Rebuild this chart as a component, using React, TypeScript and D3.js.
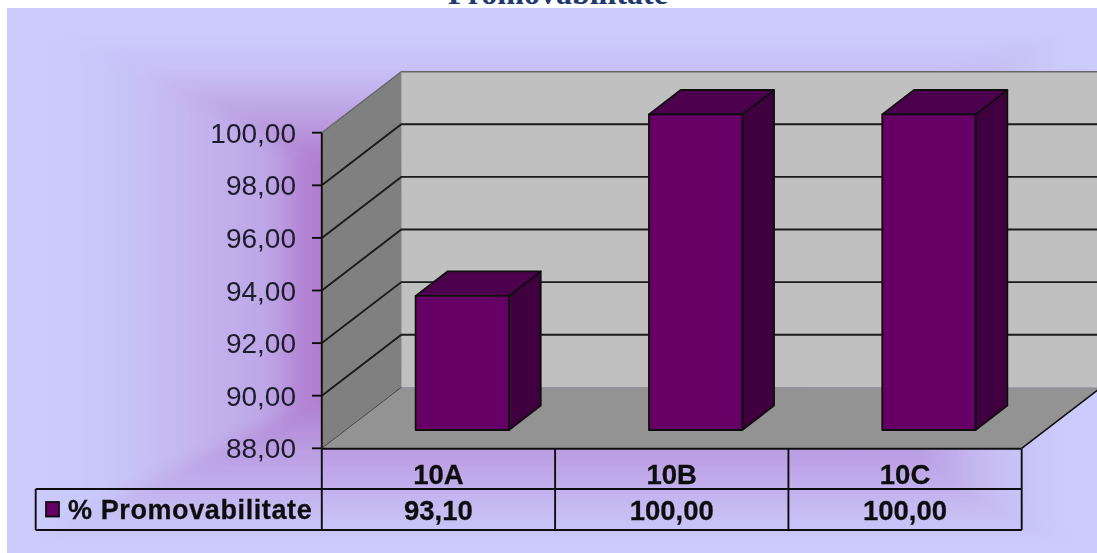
import React from "react";
import * as d3 from "d3";

const categories = ["10A", "10B", "10C"];
const values = [93.1, 100, 100];
const valueLabels = ["93,10", "100,00", "100,00"];
const ticks = [88, 90, 92, 94, 96, 98, 100];
const seriesName = "% Promovabilitate";
const title = "Promovabilitate";

const W = 1097, H = 553;
const BG = { x0: 7, y0: 8, x1: 1097, y1: 553 };
const DX = 79.5, DY = -61;
const yScale = d3.scaleLinear().domain([88, 100]).range([448.3, 132.7]);
const xScale = d3.scaleBand().domain(categories).range([321.8, 1021.7]).paddingInner(0).paddingOuter(0);
// project a point at front-plane (x,y) backwards by depth fraction d
const P = (x: number, y: number, d = 0): [number, number] => [x + DX * d, y + DY * d];
const poly = (pts: [number, number][]) => d3.line()(pts)! + "Z";

const stopsLeft: [number, string][] = [[0, "#ccccff"], [0.17, "#c9c8fb"], [0.35, "#c3b4ee"], [0.48, "#bda6e6"], [0.55, "#b180d2"], [1, "#a060c0"]];
const stopsTop: [number, string][] = [[0, "#ccccff"], [0.1, "#cbcafd"], [0.235, "#c8bff7"], [0.36, "#bfa8e6"], [0.55, "#b080d0"], [1, "#a060c0"]];
const stopsBottom: [number, string][] = [[0, "#ccccff"], [0.085, "#c9c5f8"], [0.16, "#c6bcf2"], [0.23, "#c2b0ee"], [0.375, "#ba9de2"], [0.55, "#b080d0"], [1, "#a060c0"]];
const stopsRight: [number, string][] = [[0, "#ccccff"], [0.07, "#cbcafd"], [0.2, "#c6bcf2"], [0.33, "#ba9de2"], [0.55, "#b080d0"], [1, "#a060c0"]];

const cx = (BG.x0 + BG.x1) / 2, cy = (BG.y0 + BG.y1) / 2;
const trapezoids = [
  { id: "gT", stops: stopsTop, pts: [[BG.x0, BG.y0], [BG.x1, BG.y0], [cx, cy]], g: [cx, BG.y0, cx, cy] },
  { id: "gB", stops: stopsBottom, pts: [[BG.x0, BG.y1], [BG.x1, BG.y1], [cx, cy]], g: [cx, BG.y1, cx, cy] },
  { id: "gL", stops: stopsLeft, pts: [[BG.x0, BG.y0], [BG.x0, BG.y1], [cx, cy]], g: [BG.x0, cy, cx, cy] },
  { id: "gR", stops: stopsRight, pts: [[BG.x1, BG.y0], [BG.x1, BG.y1], [cx, cy]], g: [BG.x1, cy, cx, cy] },
];

const FONT = "'Liberation Sans', Arial, sans-serif";
const INK = "#111";

export default function App() {
  const y0 = yScale(88), yTop = yScale(100);
  const xL = xScale.range()[0], xR = xScale.range()[1];
  const rowY = [y0 + 0.5, 489, 530];
  const legendX = 35.7;
  const d0 = 0.3, d1 = 0.7;
  const barBand = 0.4, barOff = 0.3;

  return (
    <svg width={W} height={H} viewBox={`0 0 ${W} ${H}`} style={{ position: "fixed", left: 0, top: 0, background: "#fff", display: "block" }}>
      <defs>
        {trapezoids.map(t => (
          <linearGradient key={t.id} id={t.id} gradientUnits="userSpaceOnUse" x1={t.g[0]} y1={t.g[1]} x2={t.g[2]} y2={t.g[3]}>
            {t.stops.map(([o, c]) => <stop key={o} offset={o} stopColor={c} />)}
          </linearGradient>
        ))}
        <filter id="soft" x="-5%" y="-5%" width="110%" height="110%">
          <feGaussianBlur stdDeviation="0.6" />
        </filter>
        <filter id="bgsoft" x="-5%" y="-5%" width="110%" height="110%">
          <feGaussianBlur stdDeviation="8" />
        </filter>
        <clipPath id="clip"><rect x={0} y={0} width={W} height={H} /></clipPath>
        <clipPath id="bgclip"><rect x={BG.x0} y={BG.y0} width={BG.x1 - BG.x0} height={BG.y1 - BG.y0} /></clipPath>
      </defs>

      <text x={558} y={4} textAnchor="middle" fontFamily="'Liberation Serif', 'Times New Roman', serif" fontWeight="bold" fontSize={32} fill="#1f3a6e">{title}</text>

      <rect x={BG.x0} y={BG.y0} width={BG.x1 - BG.x0} height={BG.y1 - BG.y0} fill="#ccccff" />
      <g clipPath="url(#bgclip)">
        <g filter="url(#bgsoft)">
          {trapezoids.map(t => (
            <path key={t.id} d={poly(t.pts as [number, number][])} fill={`url(#${t.id})`} stroke={`url(#${t.id})`} strokeWidth={0.6} />
          ))}
        </g>
      </g>

      <g filter="url(#soft)" clipPath="url(#clip)">
        {/* back wall */}
        <path d={poly([P(xL, yTop, 1), P(xR + 10, yTop, 1), P(xR + 10, y0, 1), P(xL, y0, 1)])} fill="#c0c0c0" />
        {/* side wall */}
        <path d={poly([P(xL, yTop), P(xL, yTop, 1), P(xL, y0, 1), P(xL, y0)])} fill="#808080" />
        {/* floor */}
        <path d={poly([P(xL, y0), P(xR, y0), P(xR, y0, 1), P(xL, y0, 1)])} fill="#939393" />
        {/* gridlines */}
        {ticks.slice(1).map(t => (
          <path key={t} d={d3.line()([P(xL, yScale(t)), P(xL, yScale(t), 1), P(xR + 10, yScale(t), 1)])!} fill="none"
            stroke={t === 100 ? "#666" : "#1a1a1a"} strokeWidth={t === 100 ? 1.4 : 1.9} />
        ))}
        <path d={d3.line()([P(xL, y0), P(xL, y0, 1)])!} stroke="#333" strokeWidth={0.8} fill="none" />
        <path d={d3.line()([P(xR, y0), P(xR, y0, 1)])!} stroke="#111" strokeWidth={1.6} fill="none" />

        {/* bars */}
        {categories.map((c, i) => {
          const bx0 = xScale(c)! + xScale.bandwidth() * barOff;
          const bx1 = bx0 + xScale.bandwidth() * barBand;
          const top = yScale(values[i]);
          return (
            <g key={c} stroke="#111" strokeWidth={1.8} strokeLinejoin="round">
              <path d={poly([P(bx1, y0, d0), P(bx1, y0, d1), P(bx1, top, d1), P(bx1, top, d0)])} fill="#3f003f" />
              <path d={poly([P(bx0, top, d0), P(bx1, top, d0), P(bx1, top, d1), P(bx0, top, d1)])} fill="#4d004d" />
              <path d={poly([P(bx0, y0, d0), P(bx1, y0, d0), P(bx1, top, d0), P(bx0, top, d0)])} fill="#660066" />
            </g>
          );
        })}

        {/* axis + ticks */}
        <line x1={xL} x2={xL} y1={yTop} y2={y0} stroke={INK} strokeWidth={1.9} />
        {ticks.map(t => (
          <g key={t}>
            <line x1={312} x2={xL} y1={yScale(t)} y2={yScale(t)} stroke={INK} strokeWidth={1.9} />
            <text x={296} y={yScale(t) + 10} textAnchor="end" fontFamily={FONT} fontSize={28} fill="#1c1c2c">
              {t.toFixed(2).replace(".", ",")}
            </text>
          </g>
        ))}

        {/* data table */}
        <g stroke={INK} strokeWidth={1.9} fill="none">
          <line x1={xL} x2={xR} y1={rowY[0]} y2={rowY[0]} />
          <line x1={legendX} x2={xR} y1={rowY[1]} y2={rowY[1]} />
          <line x1={legendX} x2={xR} y1={rowY[2]} y2={rowY[2]} />
          <line x1={legendX} x2={legendX} y1={rowY[1]} y2={rowY[2]} />
          {[...categories.map(c => xScale(c)!), xR].map((x, i) => (
            <line key={i} x1={x} x2={x} y1={rowY[0]} y2={rowY[2]} />
          ))}
        </g>
        {categories.map((c, i) => (
          <g key={c} fontFamily={FONT} fontWeight="bold" fontSize={27.5} fill="#111" stroke="#111" strokeWidth={0.3} textAnchor="middle">
            <text x={xScale(c)! + xScale.bandwidth() / 2} y={484}>{c}</text>
            <text x={xScale(c)! + xScale.bandwidth() / 2} y={519.5}>{valueLabels[i]}</text>
          </g>
        ))}
        <rect x={46} y={502} width={13} height={14.5} fill="#660066" stroke="#111" strokeWidth={1.8} />
        <text x={68} y={519} fontFamily={FONT} fontWeight="bold" fontSize={27} letterSpacing={0.6} fill="#111" stroke="#111" strokeWidth={0.3}>{seriesName}</text>
      </g>
    </svg>
  );
}
